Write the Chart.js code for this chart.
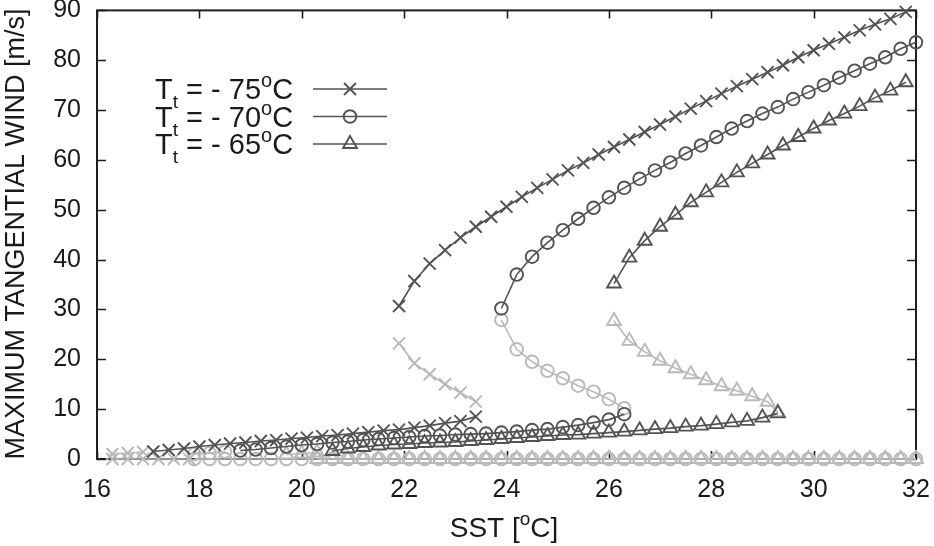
<!DOCTYPE html>
<html>
<head>
<meta charset="utf-8">
<script src="https://cdn.jsdelivr.net/npm/chart.js@4.4.1/dist/chart.umd.min.js"></script>
<style>
  html, body { margin: 0; padding: 0; background: #fff; }
  #wrap { width: 934px; height: 546px; }
</style>
</head>
<body>
<div id="wrap"><canvas id="myChart" width="934" height="546"></canvas></div>
<script>
// axis ticks
const sstTicks = [16, 18, 20, 22, 24, 26, 28, 30, 32];
const windTicks = [0, 10, 20, 30, 40, 50, 60, 70, 80, 90];
const legendTemps = ['- 75', '- 70', '- 65'];

// Tt = -75 C
const sst75Up = [21.9, 22.2, 22.5, 22.8, 23.1, 23.4, 23.7, 24.0, 24.3, 24.6, 24.9, 25.2, 25.5, 25.8, 26.1, 26.4, 26.7, 27.0, 27.3, 27.6, 27.9, 28.2, 28.5, 28.8, 29.1, 29.4, 29.7, 30.0, 30.3, 30.6, 30.9, 31.2, 31.5, 31.8];
const wind75Up = [30.7, 35.7, 39.2, 41.9, 44.4, 46.6, 48.6, 50.6, 52.6, 54.4, 56.1, 57.9, 59.4, 61.1, 62.6, 64.1, 65.6, 67.1, 68.7, 70.3, 71.8, 73.3, 74.8, 76.2, 77.6, 79.0, 80.6, 82.0, 83.3, 84.6, 86.0, 87.2, 88.3, 89.7];
const sst75Mid = [21.9, 22.2, 22.5, 22.8, 23.1, 23.4];
const wind75Mid = [23.2, 19.2, 17.0, 15.0, 13.3, 11.5];
const sst75Low = [17.1, 17.4, 17.7, 18.0, 18.3, 18.6, 18.9, 19.2, 19.5, 19.8, 20.1, 20.4, 20.7, 21.0, 21.3, 21.6, 21.9, 22.2, 22.5, 22.8, 23.1, 23.4];
const wind75Low = [1.5, 1.8, 2.1, 2.5, 2.8, 3.1, 3.3, 3.6, 3.8, 4.1, 4.3, 4.6, 4.8, 5.1, 5.4, 5.7, 5.9, 6.3, 6.7, 7.2, 7.6, 8.5];
const sst75Weak = [16.3, 16.6, 16.9];
const wind75Weak = [1.0, 1.2, 1.4];
const sst75Zero = [16.3, 16.6, 16.9, 17.2, 17.5, 17.8];
const wind75Zero = [0, 0, 0, 0, 0, 0];

// Tt = -70 C
const sst70Up = [23.9, 24.2, 24.5, 24.8, 25.1, 25.4, 25.7, 26.0, 26.3, 26.6, 26.9, 27.2, 27.5, 27.8, 28.1, 28.4, 28.7, 29.0, 29.3, 29.6, 29.9, 30.2, 30.5, 30.8, 31.1, 31.4, 31.7, 32.0];
const wind70Up = [30.2, 37.0, 40.6, 43.4, 45.9, 48.2, 50.4, 52.5, 54.4, 56.2, 57.9, 59.5, 61.3, 62.9, 64.6, 66.3, 67.8, 69.3, 70.6, 72.2, 73.6, 75.0, 76.5, 77.9, 79.3, 80.6, 82.3, 83.6];
const sst70Mid = [23.9, 24.2, 24.5, 24.8, 25.1, 25.4, 25.7, 26.0, 26.3];
const wind70Mid = [27.9, 22.0, 19.5, 17.7, 16.2, 14.7, 13.5, 12.0, 10.2];
const sst70Low = [18.8, 19.1, 19.4, 19.7, 20.0, 20.3, 20.6, 20.9, 21.2, 21.5, 21.8, 22.1, 22.4, 22.7, 23.0, 23.3, 23.6, 23.9, 24.2, 24.5, 24.8, 25.1, 25.4, 25.7, 26.0, 26.3];
const wind70Low = [1.7, 1.9, 2.2, 2.5, 2.8, 3.0, 3.3, 3.5, 3.8, 4.0, 4.2, 4.4, 4.6, 4.7, 4.9, 5.0, 5.1, 5.3, 5.5, 5.8, 6.0, 6.4, 6.8, 7.3, 7.9, 9.0];
const sst70Weak = [17.9, 18.2, 18.5];
const wind70Weak = [1.0, 1.2, 1.5];
const sst70Zero = [17.9, 18.2, 18.5, 18.8, 19.1, 19.4, 19.7, 20.0, 20.3, 20.6, 20.9, 21.2, 21.5, 21.8, 22.1, 22.4, 22.7, 23.0, 23.3, 23.6, 23.9, 24.2, 24.5, 24.8, 25.1, 25.4, 25.7, 26.0, 26.3, 26.6, 26.9, 27.2, 27.5, 27.8, 28.1, 28.4, 28.7, 29.0, 29.3, 29.6, 29.9, 30.2, 30.5, 30.8, 31.1, 31.4, 31.7, 32.0];
const wind70Zero = [0, 0, 0, 0, 0, 0, 0, 0, 0, 0, 0, 0, 0, 0, 0, 0, 0, 0, 0, 0, 0, 0, 0, 0, 0, 0, 0, 0, 0, 0, 0, 0, 0, 0, 0, 0, 0, 0, 0, 0, 0, 0, 0, 0, 0, 0, 0, 0];

// Tt = -65 C
const sst65Up = [26.1, 26.4, 26.7, 27.0, 27.3, 27.6, 27.9, 28.2, 28.5, 28.8, 29.1, 29.4, 29.7, 30.0, 30.3, 30.6, 30.9, 31.2, 31.5, 31.8];
const wind65Up = [35.2, 40.4, 43.8, 46.6, 49.0, 51.5, 53.5, 55.5, 57.5, 59.3, 61.1, 62.9, 64.6, 66.3, 67.9, 69.3, 70.8, 72.5, 73.9, 75.6];
const sst65Mid = [26.1, 26.4, 26.7, 27.0, 27.3, 27.6, 27.9, 28.2, 28.5, 28.8, 29.1, 29.3];
const wind65Mid = [27.7, 23.7, 21.5, 19.7, 18.2, 17.0, 15.8, 14.6, 13.7, 12.6, 11.5, 9.4];
const sst65Low = [20.6, 20.9, 21.2, 21.5, 21.8, 22.1, 22.4, 22.7, 23.0, 23.3, 23.6, 23.9, 24.2, 24.5, 24.8, 25.1, 25.4, 25.7, 26.0, 26.3, 26.6, 26.9, 27.2, 27.5, 27.8, 28.1, 28.4, 28.7, 29.0, 29.3];
const wind65Low = [1.6, 2.1, 2.4, 2.7, 2.9, 3.0, 3.2, 3.3, 3.4, 3.6, 3.8, 4.0, 4.2, 4.4, 4.6, 4.8, 4.9, 5.1, 5.3, 5.5, 5.75, 6.0, 6.2, 6.5, 6.7, 7.0, 7.35, 7.65, 8.3, 9.15];
const sst65Weak = [19.7, 20.0, 20.3];
const wind65Weak = [0.9, 1.1, 1.3];
const sst65Zero = [20.3, 20.6, 20.9, 21.2, 21.5, 21.8, 22.1, 22.4, 22.7, 23.0, 23.3, 23.6, 23.9, 24.2, 24.5, 24.8, 25.1, 25.4, 25.7, 26.0, 26.3, 26.6, 26.9, 27.2, 27.5, 27.8, 28.1, 28.4, 28.7, 29.0, 29.3, 29.6, 29.9, 30.2, 30.5, 30.8, 31.1, 31.4, 31.7, 32.0];
const wind65Zero = [0, 0, 0, 0, 0, 0, 0, 0, 0, 0, 0, 0, 0, 0, 0, 0, 0, 0, 0, 0, 0, 0, 0, 0, 0, 0, 0, 0, 0, 0, 0, 0, 0, 0, 0, 0, 0, 0, 0, 0];

const dark = '#535353';
const light = '#b9b9b9';
const FONT = '"Liberation Sans", Arial, Helvetica, sans-serif';
const marker = { crossRot: 8.5, circle: 6.3, triangle: 8 };

function pts(xs, ys) {
    return xs.map((x, i) => ({ x: x, y: ys[i] }));
}

function series(label, xs, ys, style, color) {
    return {
        label: label,
        data: pts(xs, ys),
        showLine: true,
        tension: 0,
        borderColor: color,
        borderWidth: 1.6,
        pointStyle: style,
        pointRadius: marker[style],
        pointHoverRadius: marker[style],
        pointBorderColor: color,
        pointBackgroundColor: 'rgba(0,0,0,0)',
        pointBorderWidth: 1.9,
        clip: false
    };
}

const datasets = [
    series('-75 upper', sst75Up, wind75Up, 'crossRot', dark),
    series('-75 lower', sst75Low, wind75Low, 'crossRot', dark),
    series('-70 upper', sst70Up, wind70Up, 'circle', dark),
    series('-70 lower', sst70Low, wind70Low, 'circle', dark),
    series('-65 upper', sst65Up, wind65Up, 'triangle', dark),
    series('-65 lower', sst65Low, wind65Low, 'triangle', dark),
    series('-75 middle', sst75Mid, wind75Mid, 'crossRot', light),
    series('-70 middle', sst70Mid, wind70Mid, 'circle', light),
    series('-65 middle', sst65Mid, wind65Mid, 'triangle', light),
    series('-75 weak', sst75Weak, wind75Weak, 'crossRot', light),
    series('-70 weak', sst70Weak, wind70Weak, 'circle', light),
    series('-65 weak', sst65Weak, wind65Weak, 'triangle', light),
    series('-75 zero', sst75Zero, wind75Zero, 'crossRot', light),
    series('-70 zero', sst70Zero, wind70Zero, 'circle', light),
    series('-65 zero', sst65Zero, wind65Zero, 'triangle', light)
];

// frame with inward ticks on all four sides
const framePlugin = {
    id: 'frame',
    beforeDatasetsDraw(chart) {
        const ctx = chart.ctx;
        const a = chart.chartArea;
        const xs = chart.scales.x, ys = chart.scales.y;
        ctx.save();
        ctx.strokeStyle = '#1e1e1e';
        ctx.lineWidth = 1.6;
        ctx.beginPath();
        sstTicks.forEach(v => {
            const px = Math.round(xs.getPixelForValue(v)) + 0.5;
            ctx.moveTo(px, a.bottom); ctx.lineTo(px, a.bottom - 8);
            ctx.moveTo(px, a.top); ctx.lineTo(px, a.top + 8);
        });
        windTicks.forEach(v => {
            const py = Math.round(ys.getPixelForValue(v)) + 0.5;
            ctx.moveTo(a.left, py); ctx.lineTo(a.left + 9, py);
            ctx.moveTo(a.right, py); ctx.lineTo(a.right - 9, py);
        });
        ctx.stroke();
        ctx.lineWidth = 2;
        ctx.strokeRect(a.left, a.top, a.right - a.left, a.bottom - a.top);
        ctx.restore();
    }
};

function drawPieces(ctx, pieces, x, y) {
    pieces.forEach(p => {
        ctx.font = p.size + 'px ' + FONT;
        ctx.fillText(p.text, x, y + (p.dy || 0));
        x += ctx.measureText(p.text).width;
    });
}

function piecesWidth(ctx, pieces) {
    let w = 0;
    pieces.forEach(p => {
        ctx.font = p.size + 'px ' + FONT;
        w += ctx.measureText(p.text).width;
    });
    return w;
}

const textPlugin = {
    id: 'texts',
    afterDraw(chart) {
        const ctx = chart.ctx;
        ctx.save();
        ctx.fillStyle = '#1a1a1a';
        ctx.textBaseline = 'alphabetic';
        ctx.textAlign = 'left';

        // y axis title
        ctx.save();
        ctx.translate(24, 234);
        ctx.rotate(-Math.PI / 2);
        ctx.textAlign = 'center';
        ctx.font = '27px ' + FONT;
        ctx.fillText('MAXIMUM TANGENTIAL WIND [m/s]', 0, 0);
        ctx.restore();

        // x axis title
        const xt = [
            { text: 'SST [', size: 28 },
            { text: 'o', size: 19, dy: -12 },
            { text: 'C]', size: 28 }
        ];
        drawPieces(ctx, xt, 504 - piecesWidth(ctx, xt) / 2, 537);

        // legend
        const styles = ['crossRot', 'circle', 'triangle'];
        const rowY = [89, 116.5, 144];
        legendTemps.forEach((t, i) => {
            const base = rowY[i] + 10;
            ctx.fillStyle = '#1a1a1a';
            drawPieces(ctx, [
                { text: 'T', size: 29 },
                { text: 't', size: 19, dy: 9 },
                { text: ' = ' + t, size: 29 },
                { text: 'o', size: 20, dy: -12 },
                { text: 'C', size: 29 }
            ], 155, base);
            ctx.strokeStyle = dark;
            ctx.lineWidth = 1.6;
            ctx.beginPath();
            ctx.moveTo(313, rowY[i]);
            ctx.lineTo(387, rowY[i]);
            ctx.stroke();
            ctx.lineWidth = 1.9;
            ctx.fillStyle = 'rgba(0,0,0,0)';
            Chart.helpers.drawPoint(ctx, {
                pointStyle: styles[i],
                radius: marker[styles[i]],
                rotation: 0,
                borderWidth: 1.9
            }, 350, rowY[i]);
        });
        ctx.restore();
    }
};

const ctx = document.getElementById('myChart');
const myChart = new Chart(ctx, {
    type: 'scatter',
    data: { datasets: datasets },
    options: {
        responsive: false,
        animation: false,
        events: [],
        layout: { padding: { top: 10, right: 18, left: 0, bottom: 0 } },
        plugins: {
            legend: { display: false },
            tooltip: { enabled: false }
        },
        scales: {
            x: {
                type: 'linear',
                min: 16,
                max: 32,
                afterBuildTicks: s => { s.ticks = sstTicks.map(v => ({ value: v })); },
                afterFit: s => { s.height = 87; s.paddingLeft = 0; s.paddingRight = 0; },
                grid: { display: false, drawTicks: false },
                border: { display: false },
                ticks: {
                    color: '#1a1a1a',
                    padding: 16,
                    maxRotation: 0,
                    font: { family: FONT, size: 25 }
                }
            },
            y: {
                type: 'linear',
                min: 0,
                max: 90,
                afterBuildTicks: s => { s.ticks = windTicks.map(v => ({ value: v })); },
                afterFit: s => { s.width = 97; s.paddingTop = 0; s.paddingBottom = 0; },
                grid: { display: false, drawTicks: false },
                border: { display: false },
                ticks: {
                    color: '#1a1a1a',
                    padding: 16,
                    font: { family: FONT, size: 25 }
                }
            }
        }
    },
    plugins: [framePlugin, textPlugin]
});
</script>
</body>
</html>
